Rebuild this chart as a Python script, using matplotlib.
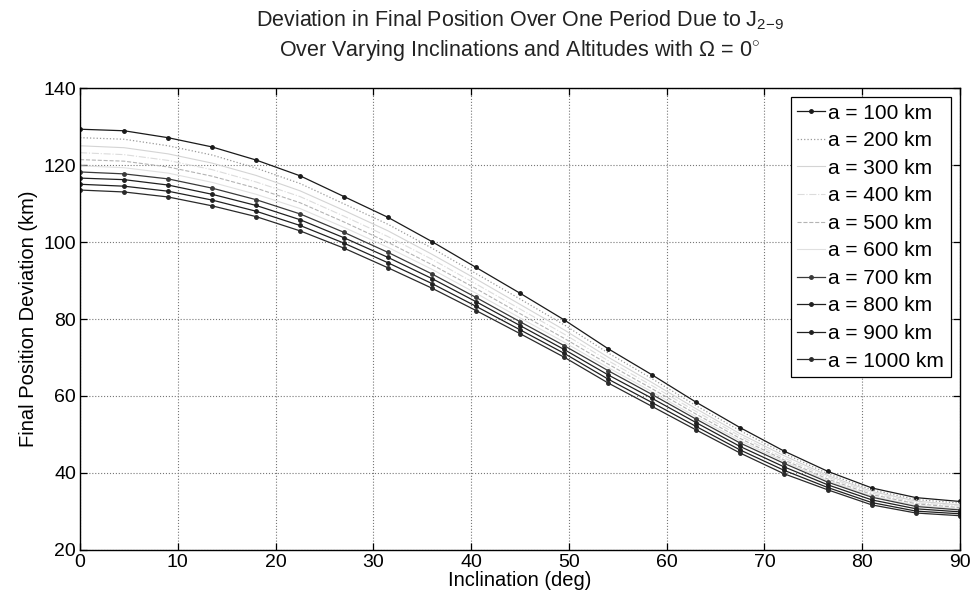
import matplotlib
matplotlib.use("Agg")
import matplotlib.pyplot as plt

plt.rcParams['font.family'] = ['Liberation Sans', 'DejaVu Sans']
plt.rcParams['mathtext.fontset'] = 'custom'
plt.rcParams['mathtext.rm'] = 'Liberation Sans'
plt.rcParams['mathtext.it'] = 'Liberation Sans'

inclination = [0, 4.5, 9, 13.5, 18, 22.5, 27, 31.5, 36, 40.5, 45, 49.5,
               54, 58.5, 63, 67.5, 72, 76.5, 81, 85.5, 90]

labels = ['a = 100 km', 'a = 200 km', 'a = 300 km', 'a = 400 km', 'a = 500 km',
          'a = 600 km', 'a = 700 km', 'a = 800 km', 'a = 900 km', 'a = 1000 km']

dev_100 = [129.3, 128.9, 127.1, 124.7, 121.3, 117.2, 111.8, 106.4, 100.1, 93.4, 86.7,
           79.8, 72.3, 65.5, 58.4, 51.8, 45.7, 40.4, 36.1, 33.6, 32.6]
dev_200 = [127.1, 126.7, 125.0, 122.6, 119.2, 115.2, 109.9, 104.6, 98.4, 91.8, 85.2,
           78.5, 71.2, 64.5, 57.5, 51.0, 45.1, 39.8, 35.6, 33.1, 32.2]
dev_300 = [125.0, 124.5, 122.9, 120.5, 117.3, 113.3, 108.2, 102.9, 96.8, 90.4, 83.8,
           77.2, 70.1, 63.5, 56.7, 50.2, 44.5, 39.3, 35.2, 32.7, 31.7]
dev_400 = [123.2, 122.7, 121.2, 118.8, 115.6, 111.8, 106.7, 101.4, 95.5, 89.1, 82.6,
           76.1, 69.2, 62.7, 56.0, 49.6, 43.9, 38.9, 34.8, 32.3, 31.4]
dev_500 = [121.4, 121.0, 119.5, 117.1, 114.0, 110.2, 105.2, 99.9, 94.1, 87.9, 81.4,
           75.0, 68.3, 61.9, 55.3, 49.0, 43.4, 38.4, 34.4, 32.0, 31.0]
dev_600 = [119.8, 119.3, 117.9, 115.5, 112.4, 108.7, 103.8, 98.6, 92.9, 86.7, 80.3,
           74.0, 67.4, 61.1, 54.6, 48.4, 43.0, 38.0, 34.0, 31.6, 30.7]
dev_700 = [118.2, 117.7, 116.4, 114.0, 111.0, 107.3, 102.5, 97.3, 91.7, 85.6, 79.3,
           73.1, 66.6, 60.4, 54.0, 47.8, 42.5, 37.6, 33.7, 31.3, 30.4]
dev_800 = [116.6, 116.2, 114.8, 112.4, 109.5, 105.8, 101.1, 96.0, 90.5, 84.5, 78.3,
           72.1, 65.5, 59.4, 53.1, 46.9, 41.6, 36.9, 33.0, 30.7, 29.9]
dev_900 = [115.0, 114.5, 113.2, 110.9, 108.0, 104.3, 99.7, 94.6, 89.2, 83.3, 77.2,
           71.1, 64.4, 58.3, 52.1, 46.0, 40.7, 36.2, 32.3, 30.1, 29.4]
dev_1000 = [113.5, 113.0, 111.7, 109.4, 106.6, 102.9, 98.4, 93.3, 88.0, 82.2, 76.2,
            70.1, 63.4, 57.3, 51.2, 45.2, 39.8, 35.6, 31.7, 29.6, 28.9]

series = [dev_100, dev_200, dev_300, dev_400, dev_500,
          dev_600, dev_700, dev_800, dev_900, dev_1000]

styles = [
    dict(color='#1a1a1a', linestyle='-', marker='.', markersize=5, linewidth=0.9),
    dict(color='#9a9a9a', linestyle=':', marker='None', linewidth=0.9),
    dict(color='#d4d4d4', linestyle='-', marker='None', linewidth=0.8),
    dict(color='#dcdcdc', linestyle='-.', marker='None', linewidth=0.8),
    dict(color='#b4b4b4', linestyle='--', marker='None', linewidth=0.8),
    dict(color='#e0e0e0', linestyle='-', marker='None', linewidth=0.8),
    dict(color='#3a3a3a', linestyle='-', marker='.', markersize=5, linewidth=0.9),
    dict(color='#202020', linestyle='-', marker='.', markersize=5, linewidth=0.9),
    dict(color='#202020', linestyle='-', marker='.', markersize=5, linewidth=0.9),
    dict(color='#2a2a2a', linestyle='-', marker='.', markersize=5, linewidth=0.9),
]

fig = plt.figure(figsize=(9.75, 5.98), dpi=100)
ax = fig.add_axes([0.0821, 0.0803, 0.9025, 0.7725])

for vals, lab, st in zip(series, labels, styles):
    ax.plot(inclination, vals, label=lab, **st)

ax.set_xlim(0, 90)
ax.set_ylim(20, 140)
ax.set_xticks(range(0, 91, 10))
ax.set_yticks(range(20, 141, 20))
ax.grid(True, linestyle=':', color='#777777', linewidth=0.8)
ax.tick_params(direction='in', length=5, width=0.9, top=True, right=True,
               labelsize=14, pad=3)
for sp in ax.spines.values():
    sp.set_linewidth(1.0)
    sp.set_color('black')

ax.set_xlabel('Inclination (deg)', fontsize=14.5, labelpad=0)
ax.set_ylabel('Final Position Deviation (km)', fontsize=14.5, labelpad=4)

fig.text(0.533, 0.966, r'Deviation in Final Position Over One Period Due to J$_{2\mathrm{-}9}$',
         ha='center', va='center', fontsize=15.5, color='#222222')
fig.text(0.533, 0.916, r'Over Varying Inclinations and Altitudes with $\Omega$ = 0$^{\circ}$',
         ha='center', va='center', fontsize=15.5, color='#222222')

leg = ax.legend(loc='upper right', fontsize=15, handlelength=1.35, handletextpad=0.15,
                labelspacing=0.41, borderpad=0.3, borderaxespad=0.45,
                fancybox=False, framealpha=1, edgecolor='black', numpoints=1)
leg.get_frame().set_linewidth(0.9)

fig.savefig('out.png', dpi=100)
